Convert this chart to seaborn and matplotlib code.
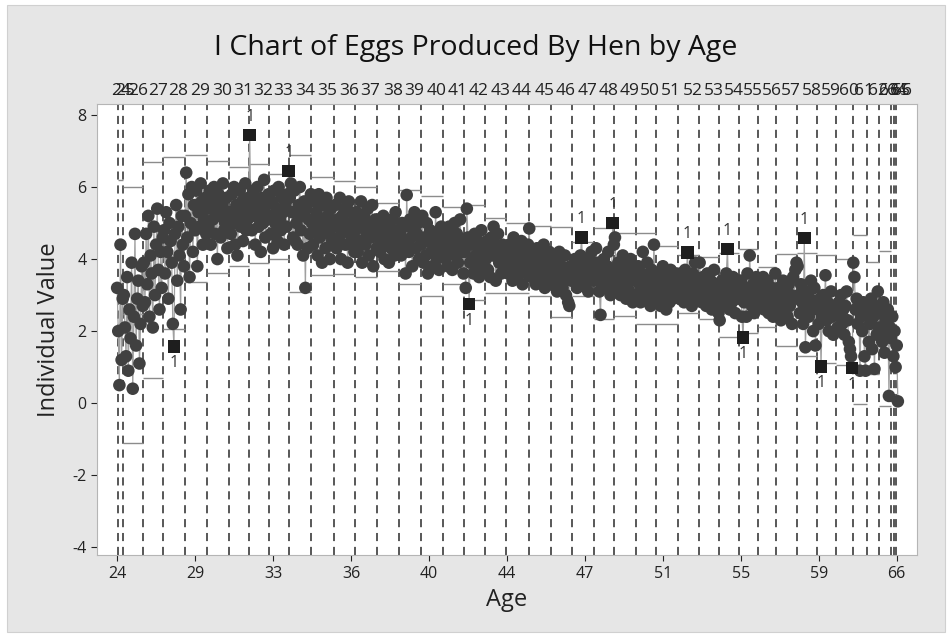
import numpy as np
import pandas as pd
import matplotlib.pyplot as plt
import matplotlib.transforms as mtransforms
from matplotlib.patches import Rectangle
import seaborn as sns

# ---- eggs produced per observation, grouped by hen age (stage) ----
age_24 = [3.2]
age_25 = [2.0, 0.5, 4.4, 1.2, 2.9]
age_26 = [3.0, 2.1, 1.3, 3.5, 0.9, 2.6, 1.8, 3.9, 0.4, 2.4, 4.7, 1.6, 2.9, 3.4, 1.1, 2.2, 3.8, 2.7]
age_27 = [3.9, 2.8, 4.7, 3.3, 5.2, 2.4, 4.1, 3.6, 2.1, 4.9, 3.0, 4.4, 5.4, 3.7, 2.6, 4.2, 3.2, 4.6]
age_28 = [4.8, 3.6, 5.3, 4.2, 2.9, 5.0, 4.5, 3.9, 2.2, 1.58, 4.7, 5.5, 3.4, 4.9, 4.1, 2.6, 5.2, 4.4, 3.8]
age_29 = [5.2, 6.4, 4.6, 5.8, 3.5, 5.0, 6.0, 4.2, 5.5, 4.8, 5.9, 3.8, 5.3, 4.9, 6.1, 5.6, 4.4, 5.1, 5.7, 4.7]
age_30 = [5.4, 4.9, 5.9, 4.4, 5.6, 5.1, 6.0, 4.7, 5.3, 4.0, 5.8, 5.2, 4.6, 5.5, 6.1, 4.8, 5.0, 5.7, 4.3, 5.3]
age_31 = [5.3, 4.7, 5.8, 5.0, 6.0, 4.4, 5.5, 4.1, 5.2, 5.9, 4.9, 5.6, 4.5, 5.4, 6.1, 4.8, 5.1, 5.7]
age_32 = [7.44, 5.4, 4.8, 5.9, 5.2, 4.4, 5.6, 6.0, 4.9, 5.3, 4.2, 5.7, 5.0, 6.2, 4.6, 5.5, 5.1, 5.8]
age_33 = [5.2, 4.7, 5.6, 4.3, 5.9, 5.0, 5.4, 4.5, 6.0, 5.1, 4.8, 5.7, 5.3, 4.4, 5.5, 4.9, 5.8, 6.44]
age_34 = [5.7, 6.1, 5.3, 4.6, 5.9, 4.5, 5.0, 4.4, 5.5, 6.0, 4.8, 5.2, 4.1, 5.6, 3.2, 5.4, 4.3, 5.1, 4.7, 5.8]
age_35 = [5.0, 4.4, 5.6, 4.8, 5.3, 4.1, 5.8, 4.6, 5.1, 3.9, 5.5, 4.9, 4.3, 5.7, 5.2, 4.7, 4.0, 5.4, 4.5, 5.0]
age_36 = [4.9, 5.5, 4.3, 5.1, 4.6, 5.7, 4.0, 5.2, 4.8, 5.4, 4.4, 5.0, 3.9, 5.6, 4.7, 5.3, 4.5, 5.0, 4.2]
age_37 = [4.8, 5.3, 4.2, 5.0, 4.5, 5.6, 3.9, 4.9, 5.2, 4.4, 4.7, 5.4, 4.1, 5.0, 4.6, 5.5, 3.8, 4.9, 5.1, 4.3]
age_38 = [4.6, 5.0, 4.2, 4.8, 4.4, 5.2, 4.0, 4.7, 5.0, 4.5, 3.9, 4.9, 4.3, 5.1, 4.6, 4.1, 5.3, 4.5, 4.8, 4.4]
age_39 = [4.7, 4.1, 5.0, 4.4, 4.9, 3.6, 5.78, 4.5, 4.2, 5.1, 4.6, 3.8, 4.8, 5.3, 4.3, 4.7, 5.0, 4.0, 4.6]
age_40 = [4.4, 5.2, 3.9, 4.6, 4.1, 5.0, 3.6, 4.5, 4.8, 4.2, 3.8, 4.7, 4.3, 5.3, 4.0, 4.6, 3.7, 4.4, 4.9, 4.2]
age_41 = [4.3, 4.8, 4.0, 4.5, 3.8, 4.9, 4.2, 4.6, 3.7, 4.4, 5.0, 4.1, 4.7, 3.9, 4.5, 5.1, 4.2, 4.4, 3.6]
age_42 = [4.2, 3.2, 5.4, 4.6, 2.75, 3.9, 4.4, 4.0, 3.6, 4.7, 4.1, 3.8, 4.5, 3.5, 4.3, 4.8, 3.9, 4.2, 3.7]
age_43 = [4.0, 4.5, 3.7, 4.2, 3.5, 4.6, 4.1, 4.9, 4.4, 3.4, 4.3, 4.7, 3.9, 4.0, 3.6, 4.4, 3.8, 3.8, 4.2]
age_44 = [4.0, 3.6, 4.4, 3.8, 4.2, 3.4, 4.6, 3.9, 4.1, 3.5, 4.3, 3.7, 4.0, 4.5, 3.3, 4.2, 3.8, 4.1, 3.6, 4.4]
age_45 = [4.85, 3.9, 3.5, 4.2, 3.7, 4.0, 3.3, 4.3, 3.8, 3.6, 4.1, 3.4, 3.9, 4.4, 3.2, 4.0, 3.7, 3.5, 4.2, 3.8]
age_46 = [3.7, 3.3, 4.0, 3.5, 3.9, 3.1, 3.6, 4.2, 3.4, 3.8, 3.2, 3.7, 4.1, 3.0, 3.5, 2.8, 2.7, 3.8, 3.4]
age_47 = [3.7, 3.4, 4.0, 3.6, 3.2, 3.9, 3.5, 4.1, 4.6, 3.8, 3.3, 3.7, 4.0, 3.5, 3.1, 3.8, 3.6, 4.2, 3.4, 3.9]
age_48 = [3.6, 4.3, 3.4, 3.9, 3.1, 2.45, 3.7, 3.3, 4.0, 3.5, 3.2, 3.8, 4.2, 3.4, 3.0, 3.7, 5.0, 4.4]
age_49 = [4.6, 3.6, 3.2, 3.9, 3.4, 3.0, 3.7, 4.1, 3.3, 3.5, 2.9, 3.8, 3.6, 3.1, 4.0, 3.4, 2.8, 3.7, 3.5]
age_50 = [3.4, 3.0, 3.8, 3.3, 2.8, 3.6, 4.2, 3.2, 3.5, 2.9, 3.9, 3.1, 3.4, 2.7, 3.7, 3.3, 4.4, 3.0]
age_51 = [3.3, 2.9, 3.6, 3.1, 2.7, 3.4, 3.8, 3.0, 3.2, 2.6, 3.5, 3.1, 2.8, 3.7, 3.3, 2.9, 3.4, 3.0, 3.6, 3.2]
age_52 = [3.3, 2.9, 3.6, 3.1, 3.4, 2.8, 3.7, 3.2, 4.19, 3.5, 3.0, 3.3, 2.7, 3.6, 3.1, 3.9, 3.4, 2.9, 3.2]
age_53 = [3.9, 3.2, 2.8, 3.5, 3.0, 3.3, 2.7, 3.6, 3.1, 2.9, 3.4, 2.6, 3.2, 3.7, 3.0, 2.8, 3.3, 2.5]
age_54 = [2.3, 3.0, 3.4, 2.7, 3.2, 2.9, 3.6, 4.28, 3.1, 2.6, 3.3, 2.8, 3.5, 3.0, 2.5, 3.2, 2.9, 3.4]
age_55 = [3.0, 3.4, 2.4, 1.82, 2.8, 3.2, 2.4, 3.6, 2.9, 4.1, 3.1, 2.7, 3.3, 2.5, 3.0, 3.5, 2.8]
age_56 = [3.0, 2.7, 3.3, 2.9, 3.5, 2.6, 3.1, 2.8, 3.4, 2.5, 3.0, 2.7, 3.2, 2.4, 2.9, 3.6]
age_57 = [2.9, 2.5, 3.2, 2.7, 2.3, 3.0, 3.4, 2.6, 2.8, 3.1, 2.4, 3.3, 2.7, 3.0, 2.2, 3.5, 2.9, 3.7, 3.9]
age_58 = [3.8, 3.0, 2.5, 3.3, 2.8, 2.2, 4.58, 1.55, 2.7, 3.1, 2.4, 2.9, 3.4, 2.6, 2.0, 3.2, 1.6, 2.8]
age_59 = [2.6, 2.2, 2.9, 1.02, 2.4, 3.0, 2.7, 3.55, 2.3, 2.8, 2.0, 2.6, 3.1, 2.4, 1.9, 2.7, 2.5]
age_60 = [2.5, 2.1, 2.8, 2.4, 3.0, 2.2, 2.6, 1.9, 2.7, 3.1, 2.3, 1.7, 1.5, 1.3, 0.97]
age_61 = [3.9, 3.5, 2.6, 2.9, 2.2, 2.7, 0.9, 2.4, 2.0, 2.8, 1.3, 0.9, 2.5]
age_62 = [2.6, 1.7, 2.2, 2.9, 1.5, 2.4, 0.95, 2.7, 1.9, 3.1, 2.1]
age_63 = [2.5, 2.0, 1.7, 2.8, 1.4, 2.3, 1.9, 2.6, 0.2, 2.1]
age_64 = [1.8, 2.4, 1.3]
age_65 = [2.0, 1.0]
age_66 = [1.6, 0.05]

ages = list(range(24, 67))
stage_values = [age_24, age_25, age_26, age_27, age_28, age_29, age_30, age_31, age_32,
                age_33, age_34, age_35, age_36, age_37, age_38, age_39, age_40, age_41,
                age_42, age_43, age_44, age_45, age_46, age_47, age_48, age_49, age_50,
                age_51, age_52, age_53, age_54, age_55, age_56, age_57, age_58, age_59,
                age_60, age_61, age_62, age_63, age_64, age_65, age_66]

nan = np.nan
ucl = [nan, 6.2, 6.0, 6.7, 6.83, 6.9, 6.72, 6.55, 6.65, 6.35, 6.9, 6.28, 6.17, 6.0, 5.57,
       5.92, 5.75, 5.44, 5.5, 5.14, 5.0, 4.92, 4.9, 4.47, 4.86, 4.72, 4.72, 4.36, 4.11, 4.06,
       4.17, 4.28, 3.78, 4.14, 4.17, 4.11, 4.0, 4.67, 3.92, 4.22, nan, nan, nan]
lcl = [nan, nan, -1.1, 0.7, 2.05, 3.35, 3.6, 3.8, 3.9, 4.0, 3.08, 3.55, 3.58, 3.5, 3.67,
       3.3, 2.97, 3.3, 2.86, 3.06, 3.06, 2.97, 2.39, 2.97, 2.33, 2.42, 2.19, 2.2, 2.5, 2.33,
       1.83, 1.95, 2.11, 1.58, 1.31, 1.12, 1.05, -0.03, 0.8, -0.08, nan, nan, nan]

TICK_STEP = 70

# ---- build long table ----
rows = []
for a, vals in zip(ages, stage_values):
    for v in vals:
        rows.append((a, v))
df = pd.DataFrame(rows, columns=['age', 'eggs'])
df['obs'] = np.arange(1, len(df) + 1)

lim = pd.DataFrame({'age': ages, 'ucl': ucl, 'lcl': lcl})
st = df.groupby('age').agg(first=('obs', 'min'), last=('obs', 'max'), mean=('eggs', 'mean')).reset_index()
st = st.merge(lim, on='age')
st['x0'] = st['first'] - 0.5
st['x1'] = st['last'] + 0.5
df = df.merge(lim, on='age')
df['out'] = (df['eggs'] > df['ucl']) | (df['eggs'] < df['lcl'])

# ---- figure ----
sns.set_style('white')
plt.rcParams['font.family'] = ['Open Sans', 'DejaVu Sans']
plt.rcParams['axes.unicode_minus'] = False

fig = plt.figure(figsize=(9.52, 6.41), dpi=100)
fig.patch.set_facecolor('white')
fig.patches.append(Rectangle((0.007, 0.014), 0.986, 0.978, transform=fig.transFigure,
                             facecolor='#e6e6e6', edgecolor='#d0d0d0', lw=0.8, zorder=-10))
ax = fig.add_axes([0.102, 0.134, 0.861, 0.704])
ax.set_facecolor('white')

# stage boundaries
for x in st['x0'].iloc[1:]:
    ax.axvline(x, color='#4a4a4a', lw=1.3, ls=(0, (4.5, 3.2)), zorder=1)

# control limits and center lines
lims = st.dropna(subset=['ucl'])
ax.hlines(lims['ucl'], lims['x0'], lims['x1'], color='#8c8c8c', lw=1.0, zorder=1.5)
lows = st.dropna(subset=['lcl'])
ax.hlines(lows['lcl'], lows['x0'], lows['x1'], color='#8c8c8c', lw=1.0, zorder=1.5)
ax.hlines(lims['mean'], lims['x0'], lims['x1'], color='#9a9a9a', lw=1.0, zorder=1.5)

# connecting line + points
sns.lineplot(data=df, x='obs', y='eggs', sort=False, estimator=None, color='#a0a0a0',
             lw=0.9, ax=ax, zorder=2)
sns.scatterplot(data=df[~df['out']], x='obs', y='eggs', color='#404040', s=82,
                edgecolor='none', linewidth=0, ax=ax, zorder=3)
sns.scatterplot(data=df[df['out']], x='obs', y='eggs', color='#1e1e1e', marker='s', s=82,
                edgecolor='none', linewidth=0, ax=ax, zorder=4)
for _, r in df[df['out']].iterrows():
    up = r['eggs'] > r['ucl']
    ax.annotate('1', (r['obs'], r['eggs']), xytext=(0, 13 if up else -12),
                textcoords='offset points', ha='center', va='center', fontsize=11.5,
                color='#333333', zorder=5)

# stage labels on top (they crowd together where stages are short, as in Minitab)
trans = mtransforms.blended_transform_factory(ax.transData, ax.transAxes)
for a, f, l in zip(st['age'], st['first'], st['last']):
    ax.text((f + l) / 2 + 4, 1.01, str(int(a)), transform=trans,
            ha='center', va='bottom', fontsize=12.5, color='#222222')

# axes
ax.set_xlim(-17, 719)
ax.set_ylim(-4.22, 8.31)
ticks = np.arange(1, len(df) + 1, TICK_STEP)
ax.set_xticks(ticks)
ax.set_xticklabels(df.set_index('obs').loc[ticks, 'age'].astype(int).astype(str))
ax.set_yticks([-4, -2, 0, 2, 4, 6, 8])
ax.tick_params(axis='both', labelsize=11.5, colors='#222222', length=4, width=0.8,
               direction='out', bottom=True, left=True)
for s in ax.spines.values():
    s.set_color('#b5b5b5')
    s.set_linewidth(0.8)

ax.set_xlabel('Age', fontsize=17, color='#222222', labelpad=5)
ax.set_ylabel('Individual Value', fontsize=17, color='#222222', labelpad=8)
fig.text(0.5, 0.925, 'I Chart of Eggs Produced By Hen by Age', ha='center', va='center',
         fontsize=20.5, color='#111111')

fig.savefig('out.png', dpi=100, facecolor=fig.get_facecolor())
